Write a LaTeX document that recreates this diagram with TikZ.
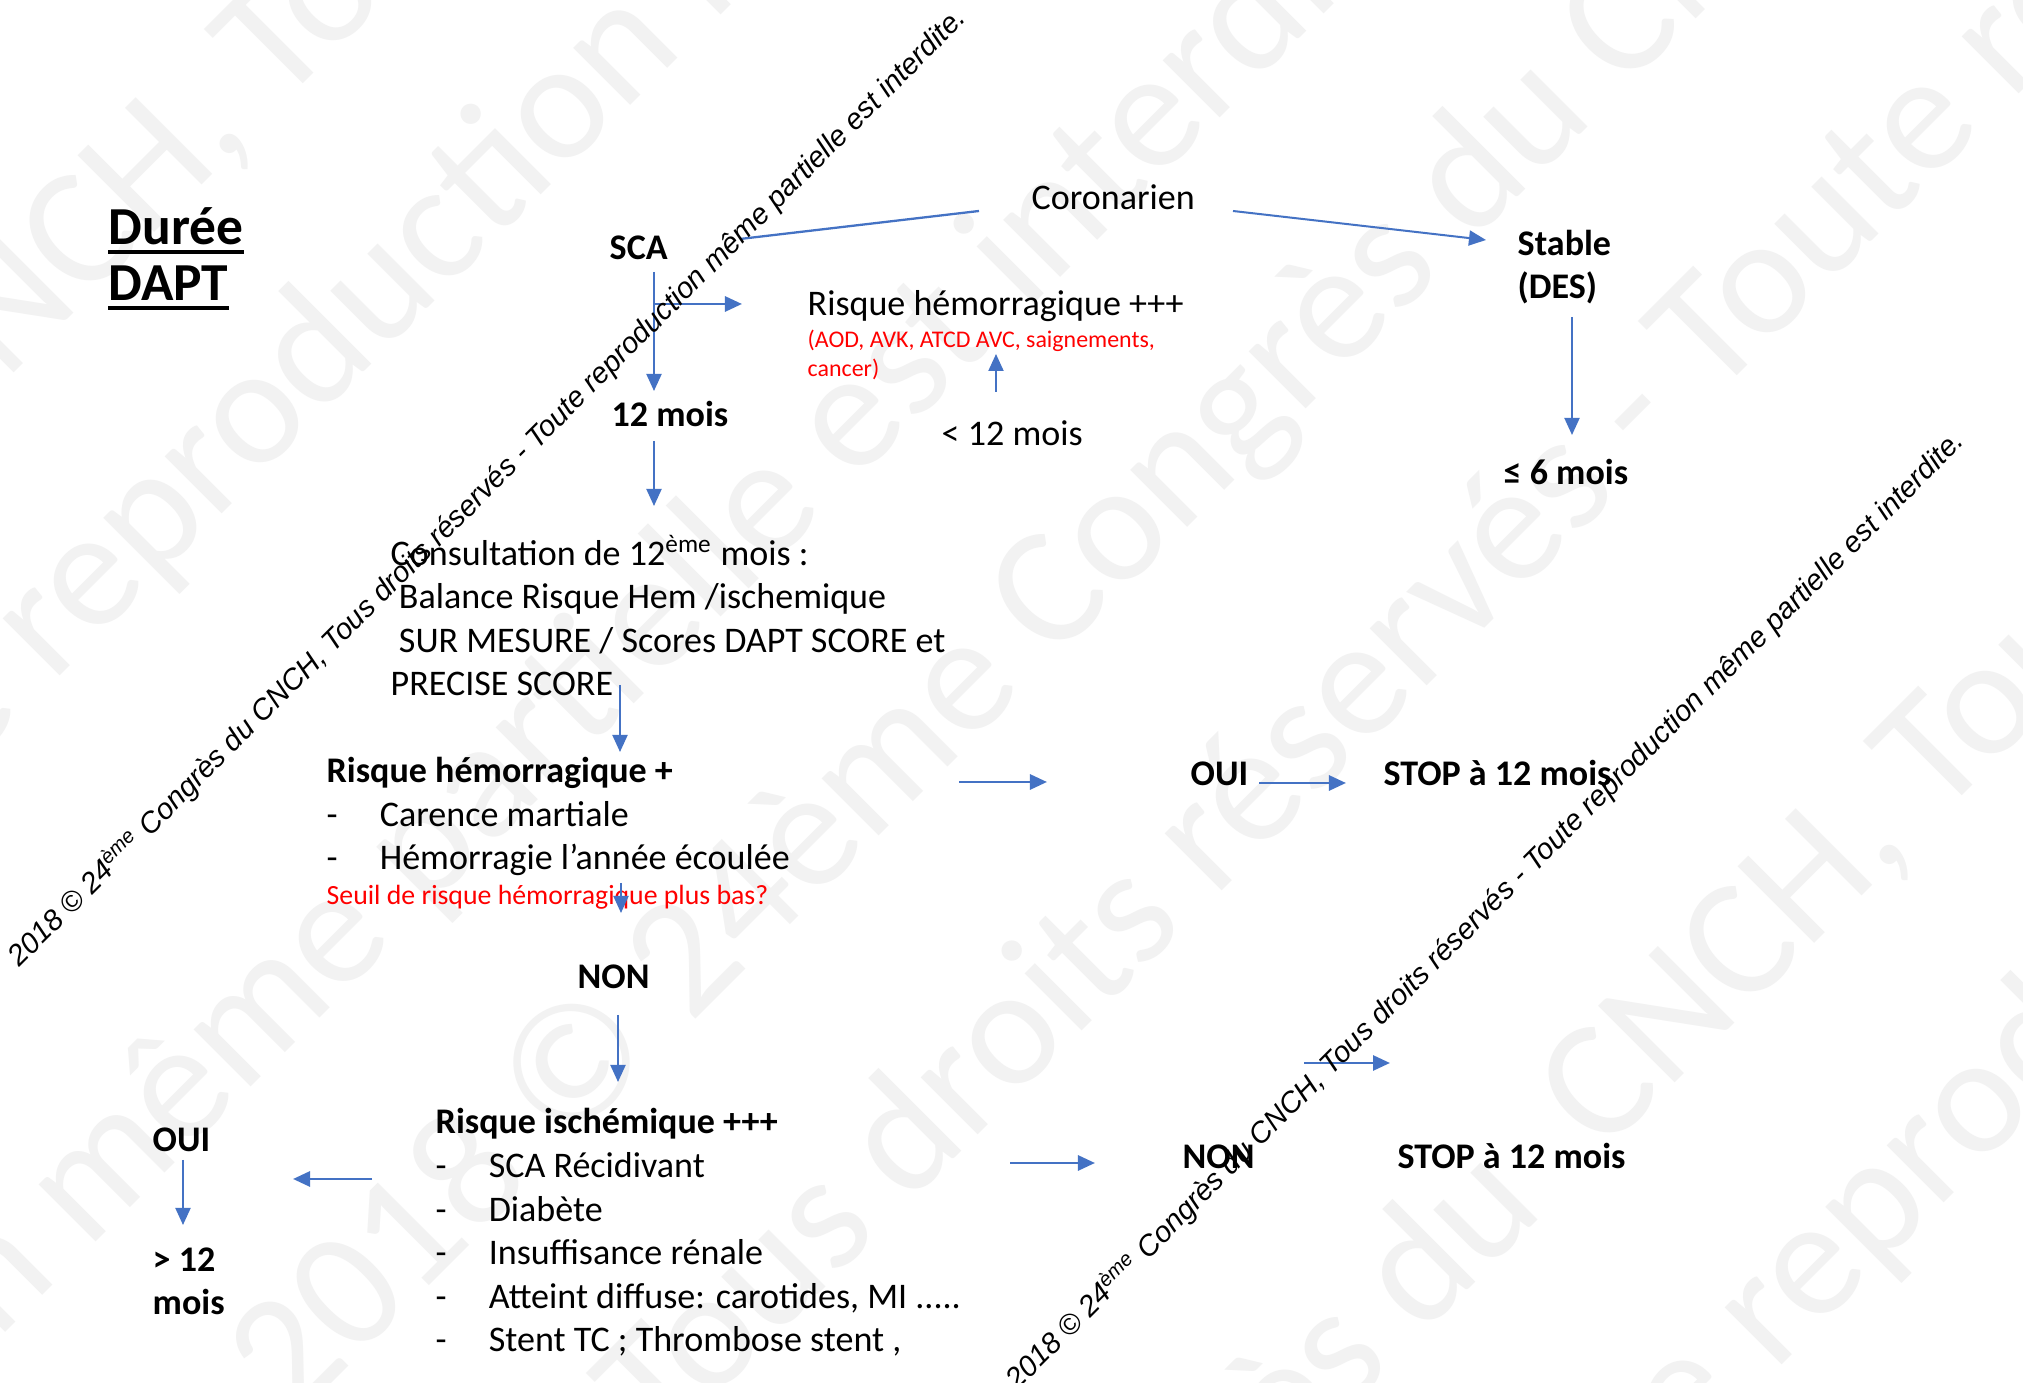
\documentclass[tikz,border=0pt]{standalone}
\usepackage{fontspec}
\setmainfont{Carlito}
\newfontfamily\markfont{Liberation Sans}
\usetikzlibrary{arrows.meta,calc}
\definecolor{Arrow}{HTML}{4472C4}
\definecolor{Warn}{HTML}{FF0000}
\definecolor{Mark}{HTML}{F2F2F2}
\newcommand{\bodysize}{\fontsize{10.25pt}{12.4pt}\selectfont}
\newcommand{\itm}{\makebox[15.1pt][l]{-}}
\newcommand{\gap}{\kern.23em}
\newcommand{\cnchline}{2018 © 24\textsuperscript{ème} Congrès du CNCH, Tous droits réservés - Toute reproduction même partielle est interdite.}

\begin{document}
\begin{tikzpicture}[
 x=0.01cm,y=-0.01cm,
 txt/.style={inner sep=0,anchor=base west,font=\bodysize},
 btxt/.style={txt,font=\bodysize\bfseries},
 rtxt/.style={inner sep=0,anchor=base west,text=Warn},
 a/.style={-{Triangle[length=1.7mm,width=1.5mm]},draw=Arrow,line width=0.57pt},
 ta/.style={a,line width=0.8pt},
 ln/.style={draw=Arrow,line width=0.65pt},
 wm/.style={inner sep=0,rotate=45,text=Mark,font=\fontsize{48pt}{48pt}\selectfont},
 cw/.style={inner sep=0,rotate=45,font=\markfont\itshape\fontsize{8.3pt}{9pt}\selectfont}
]
\fill[white] (0,0) rectangle (2023,1383);
\useasboundingbox (0,0) rectangle (2023,1383);

% background watermark
\begin{scope}
\clip (0,0) rectangle (2023,1383);
\node[wm,anchor=base east] (wa1) at (279,108) {Congrès du CNCH,\gap};
\node[wm,anchor=base west] (wa2) at (279,108) {Tous droits réservés};
\node[wm,anchor=base east] (wb1) at (52,684) {Toute\gap};
\node[wm,anchor=base west] (wb2) at (52,684) {reproduction même partielle};
\node[wm,anchor=base east] (wc1) at (425,913) {reproduction même\gap};
\node[wm,anchor=base west] (wc2) at (425,913) {partielle est interdite.};
\node[wm,anchor=base east] (wd1) at (690,1025) {2018 ©\gap};
\node[wm,anchor=base west] (wd2) at (690,1025) {24ème Congrès du CNCH, Tous};
\node[wm,anchor=base east] (we1) at (1713,400) {Tous droits réservés -\gap};
\node[wm,anchor=base west] (we2) at (1713,400) {Toute reproduction};
\node[wm,anchor=base east] (wf1) at (1602,1156) {Congrès du\gap\gap};
\node[wm,anchor=base west] (wf2) at (1602,1156) {CNCH, Tous droits};
\node[wm,anchor=base east] (wg1) at (1774,1373) {Toute\gap};
\node[wm,anchor=base west] (wg2) at (1774,1373) {reproduction même};
\end{scope}

% title
\node[inner sep=0,anchor=base west,font=\fontsize{15.2pt}{16pt}\selectfont\bfseries] (duree) at (108,245) {Durée};
\node[inner sep=0,anchor=base west,font=\fontsize{15.2pt}{16pt}\selectfont\bfseries] (dapt) at (108,301) {DAPT};
\draw[line width=1.4pt] ($(duree.base west)+(0,7)$) -- ($(duree.base east)+(0,7)$);
\draw[line width=1.4pt] ($(dapt.base west)+(0,7)$) -- ($(dapt.base east)+(0,7)$);

% top branch
\node[btxt] (sca) at (609,260) {SCA};
\node[txt] (coron) at (1031,210) {Coronarien};
\node[btxt,align=left] (stable) at (1517,299) {Stable\\(DES)};
\node[btxt] (le6) at (1503,485) {≤ 6 mois};
\node[txt] (hemo) at (807,316) {Risque hémorragique +++};
\node[rtxt,align=left,font=\fontsize{6.8pt}{8.25pt}\selectfont] (risk) at (807,377) {(AOD, AVK, ATCD AVC, saignements,\\cancer)};
\node[txt] (lt12) at (941,446) {< 12 mois};
\node[btxt] (mois12) at (611,427) {12 mois};

% consultation
\node[txt,align=left] (consult) at (390,696) {Consultation de 12\textsuperscript{ème} mois :\\\hspace*{.23em}Balance Risque Hem /ischemique\\\hspace*{.23em}SUR MESURE / Scores DAPT SCORE et\\PRECISE SCORE};

% bleeding risk
\node[txt,align=left] (hemp) at (326,870) {\textbf{Risque hémorragique +}\\\itm Carence martiale\\\itm Hémorragie l’année écoulée};
\node[rtxt,font=\fontsize{7.9pt}{9pt}\selectfont] (seuil) at (326,905) {Seuil de risque hémorragique plus bas?};
\node[btxt] (oui2) at (1190,786) {OUI};
\node[btxt] (stop1) at (1383,786) {STOP à 12 mois};
\node[btxt] (non1) at (577,989) {NON};

% ischemic risk
\node[txt,align=left] (isch) at (435,1352) {\textbf{Risque ischémique +++}\\\itm SCA Récidivant\\\itm Diabète\\\itm Insuffisance rénale\\\itm Atteint diffuse: carotides, MI .....\\\itm Stent TC ; Thrombose stent ,};
\node[btxt] (oui1) at (152,1152) {OUI};
\node[btxt,align=left] (gt12) at (152,1315) {> 12\\mois};
\node[btxt] (non2) at (1182,1169) {NON};
\node[btxt] (stop2) at (1397,1169) {STOP à 12 mois};

% connectors
\coordinate (fork) at ($(sca.base west)+(45,44)$);
\draw[a] ($(sca.base west)+(45,12)$) -- ($(mois12.base west)+(43,-36)$);
\draw[ta] (fork) -- ($(hemo.base west)+(-65,-12)$);
\draw[a] ($(mois12.base west)+(43,14)$) -- ($(consult.base west)+(264,-190)$);
\draw[ln] ($(coron.base west)+(-52,1)$) -- ($(sca.base west)+(131,-21)$);
\draw[a] ($(coron.base west)+(202,1)$) -- ($(stable.base west)+(-31,-59)$);
\draw[a] ($(stable.base west)+(55,18)$) -- ($(le6.base west)+(69,-50)$);
\draw[a] ($(lt12.base west)+(55,-54)$) -- ($(risk.base west)+(189,-23)$);
\draw[a] ($(consult.base west)+(230,-11)$) -- ($(hemp.base west)+(294,-118)$);
\draw[a] ($(hemp.base west)+(295,13)$) -- ($(non1.base west)+(44,-76)$);
\draw[a] ($(non1.base west)+(41,26)$) -- ($(isch.base west)+(183,-270)$);
\draw[ta] ($(isch.base west)+(-63,-173)$) -- ($(oui1.base west)+(141,27)$);
\draw[a] ($(oui1.base west)+(31,8)$) -- ($(gt12.base west)+(31,-90)$);
\draw[ta] ($(isch.base west)+(575,-189)$) -- ($(non2.base west)+(-87,-6)$);
\draw[ta] ($(non2.base west)+(122,-106)$) -- ($(stop2.base west)+(-7,-106)$);
\draw[ta] ($(hemp.base west)+(633,-88)$) -- ($(oui2.base west)+(-143,-4)$);
\draw[ta] ($(oui2.base west)+(69,-3)$) -- ($(stop1.base west)+(-37,-3)$);

% copyright lines
\node[cw] (cwA) at (487,487) {\cnchline};
\node[cw] (cwB) at (1485,910) {\cnchline};
\end{tikzpicture}
\end{document}
